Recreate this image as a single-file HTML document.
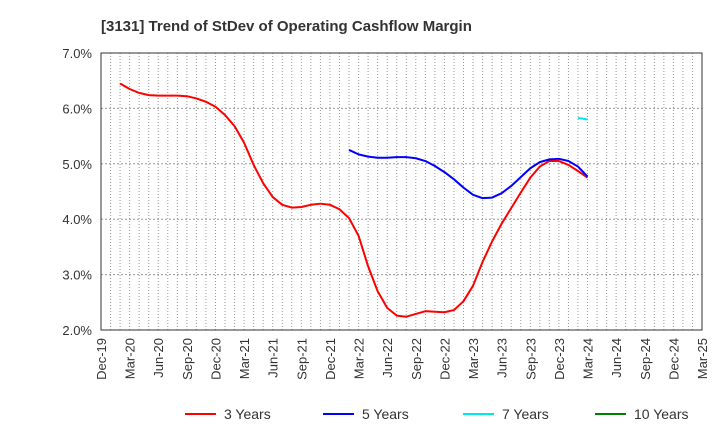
<!DOCTYPE html>
<html><head><meta charset="utf-8"><style>
body{margin:0;background:#fff;font-family:"Liberation Sans",Arial,sans-serif;}
svg text{font-family:"Liberation Sans",Arial,sans-serif;}
</style></head><body>
<svg id="chart" width="720" height="440">
<text x="101" y="31" font-size="15" font-weight="bold" fill="#333">[3131]  Trend of StDev of Operating Cashflow Margin</text>
<g id="grid"></g><g id="axes"></g><g id="series"></g><g id="legend"></g>
</svg>
<script>
const yTicks=[2,3,4,5,6,7];
const xLabels=["Dec-19","Mar-20","Jun-20","Sep-20","Dec-20","Mar-21","Jun-21","Sep-21","Dec-21","Mar-22","Jun-22","Sep-22","Dec-22","Mar-23","Jun-23","Sep-23","Dec-23","Mar-24","Jun-24","Sep-24","Dec-24","Mar-25"];
const s3Start=2;
const s3=[6.45,6.35,6.28,6.24,6.23,6.23,6.23,6.22,6.18,6.12,6.03,5.88,5.68,5.38,4.98,4.65,4.40,4.26,4.21,4.22,4.26,4.28,4.26,4.18,4.02,3.70,3.15,2.70,2.40,2.26,2.24,2.29,2.34,2.33,2.32,2.36,2.52,2.80,3.23,3.60,3.92,4.20,4.48,4.75,4.95,5.05,5.05,4.98,4.87,4.75];
const s5Start=26;
const s5=[5.25,5.17,5.13,5.11,5.11,5.12,5.12,5.10,5.05,4.96,4.85,4.72,4.57,4.44,4.38,4.39,4.47,4.60,4.76,4.92,5.03,5.08,5.09,5.05,4.95,4.77];
const s7Start=50;
const s7=[5.83,5.80];
const s10Start=0;
const s10=[];
const L=101,R=702,T=53,B=330,NM=63;
const xs=m=>L+(R-L)*m/NM;
const ys=v=>B-(B-T)*(v-2)/5;
const NS="http://www.w3.org/2000/svg";
function mk(tag,attrs,parent){const e=document.createElementNS(NS,tag);for(const k in attrs)e.setAttribute(k,attrs[k]);parent.appendChild(e);return e;}
const grid=document.getElementById('grid'),axes=document.getElementById('axes'),ser=document.getElementById('series'),leg=document.getElementById('legend');
for(let m=1;m<NM;m++){const l=mk('line',{x1:xs(m),x2:xs(m),y1:T,y2:B,stroke:'#999','stroke-dasharray':'1,2','stroke-width':1},grid);

}
yTicks.forEach(v=>{const l=mk('line',{x1:L,x2:R,y1:ys(v),y2:ys(v),stroke:'#999','stroke-dasharray':'2,2','stroke-width':1},grid);


const t=mk('text',{x:L-9,y:ys(v)+5,'text-anchor':'end','font-size':13,fill:'#333'},axes);t.textContent=v.toFixed(1)+'%';

});
const fr=mk('rect',{x:L,y:T,width:R-L,height:B-T,fill:'none',stroke:'#333','stroke-width':1},axes);


xLabels.forEach((s,i)=>{const x=xs(i*3);const t=mk('text',{x:0,y:0,'text-anchor':'end','font-size':13,fill:'#333',transform:`translate(${x+5},${B+8}) rotate(-90)`},axes);t.textContent=s;

});
function draw(vals,start,color,name){if(!vals.length)return;const p=mk('polyline',{points:vals.map((v,i)=>xs(start+i)+','+ys(v)).join(' '),fill:'none',stroke:color,'stroke-width':2,'stroke-linejoin':'round'},ser);

}
draw(s3,s3Start,'#ff0000','series-3-years');
draw(s5,s5Start,'#0000ff','series-5-years');
draw(s7,s7Start,'#00e5ee','series-7-years');
draw(s10,s10Start,'#008000','series-10-years');
[["3 Years","#ff0000",185],["5 Years","#0000ff",323],["7 Years","#00e5ee",463],["10 Years","#008000",595]].forEach(([n,c,x])=>{
const g=mk('g',{},leg);


mk('line',{x1:x,x2:x+31,y1:414,y2:414,stroke:c,'stroke-width':2},g);
const t=mk('text',{x:x+39,y:419,'font-size':14,fill:'#333'},g);t.textContent=n;});
</script>
</body></html>
